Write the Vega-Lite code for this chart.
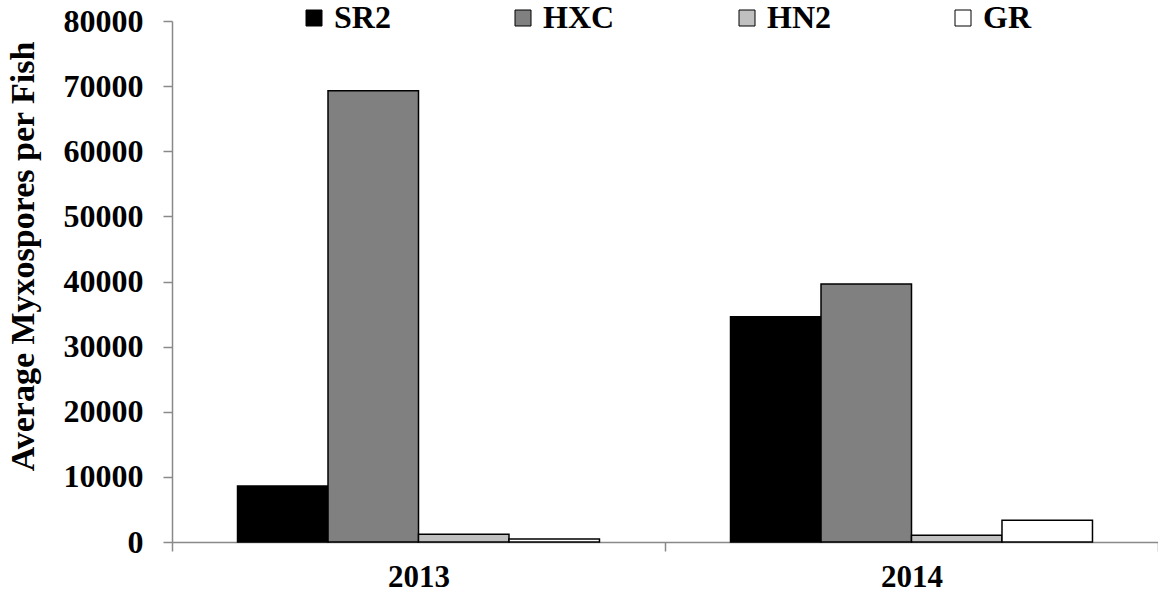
{
  "$schema": "https://vega.github.io/schema/vega-lite/v6.json",
  "autosize": "none",
  "width": 986,
  "height": 521,
  "padding": {"left": 172, "top": 21, "right": 0, "bottom": 56},
  "background": "white",
  "config": {
    "view": {"stroke": null},
    "font": "Liberation Serif"
  },
  "data": {
    "values": [
      {"year": "2013", "site": "SR2", "spores": 8600},
      {"year": "2013", "site": "HXC", "spores": 69300},
      {"year": "2013", "site": "HN2", "spores": 1200},
      {"year": "2013", "site": "GR", "spores": 450},
      {"year": "2014", "site": "SR2", "spores": 34600},
      {"year": "2014", "site": "HXC", "spores": 39600},
      {"year": "2014", "site": "HN2", "spores": 1050},
      {"year": "2014", "site": "GR", "spores": 3350}
    ]
  },
  "mark": {"type": "bar", "stroke": "black", "strokeWidth": 1.5},
  "encoding": {
    "x": {
      "field": "year",
      "type": "nominal",
      "scale": {"paddingInner": 0, "paddingOuter": 0},
      "axis": {
        "title": null,
        "labelAngle": 0,
        "labelFont": "Liberation Serif",
        "labelFontWeight": "bold",
        "labelFontSize": 31,
        "labelColor": "black",
        "labelBaseline": "top",
        "labelPadding": 11,
        "tickBand": "extent",
        "tickSize": 9,
        "tickColor": "#898989",
        "domainColor": "#898989",
        "domainWidth": 1.5,
        "tickWidth": 1.5
      }
    },
    "xOffset": {
      "field": "site",
      "type": "nominal",
      "sort": ["SR2", "HXC", "HN2", "GR"],
      "scale": {"paddingInner": 0, "paddingOuter": 0.724}
    },
    "y": {
      "field": "spores",
      "type": "quantitative",
      "scale": {"domain": [0, 80000], "nice": false},
      "axis": {
        "title": "Average Myxospores per Fish",
        "titleFont": "Liberation Serif",
        "titleFontWeight": "bold",
        "titleFontSize": 34,
        "titleColor": "black",
        "titleAngle": -90,
        "titleAlign": "center",
        "titleBaseline": "middle",
        "titleX": -149,
        "titleY": 235,
        "values": [0, 10000, 20000, 30000, 40000, 50000, 60000, 70000, 80000],
        "format": "d",
        "grid": false,
        "labelFont": "Liberation Serif",
        "labelFontWeight": "bold",
        "labelFontSize": 32,
        "labelColor": "black",
        "labelPadding": 20,
        "tickSize": 9,
        "tickColor": "#898989",
        "domainColor": "#898989",
        "domainWidth": 1.5,
        "tickWidth": 1.5
      }
    },
    "color": {
      "field": "site",
      "type": "nominal",
      "sort": ["SR2", "HXC", "HN2", "GR"],
      "scale": {
        "domain": ["SR2", "HXC", "HN2", "GR"],
        "range": ["#000000", "#808080", "#c0c0c0", "#ffffff"]
      },
      "legend": {
        "title": null,
        "orient": "none",
        "direction": "horizontal",
        "columns": 4,
        "legendX": 126,
        "legendY": -19,
        "padding": 0,
        "symbolType": "square",
        "symbolSize": 256,
        "symbolStrokeColor": "black",
        "symbolStrokeWidth": 1,
        "labelFont": "Liberation Serif",
        "labelFontWeight": "bold",
        "labelFontSize": 32,
        "labelColor": "black",
        "labelOffset": 4,
        "columnPadding": 116,
        "labelLimit": 300
      }
    }
  }
}
